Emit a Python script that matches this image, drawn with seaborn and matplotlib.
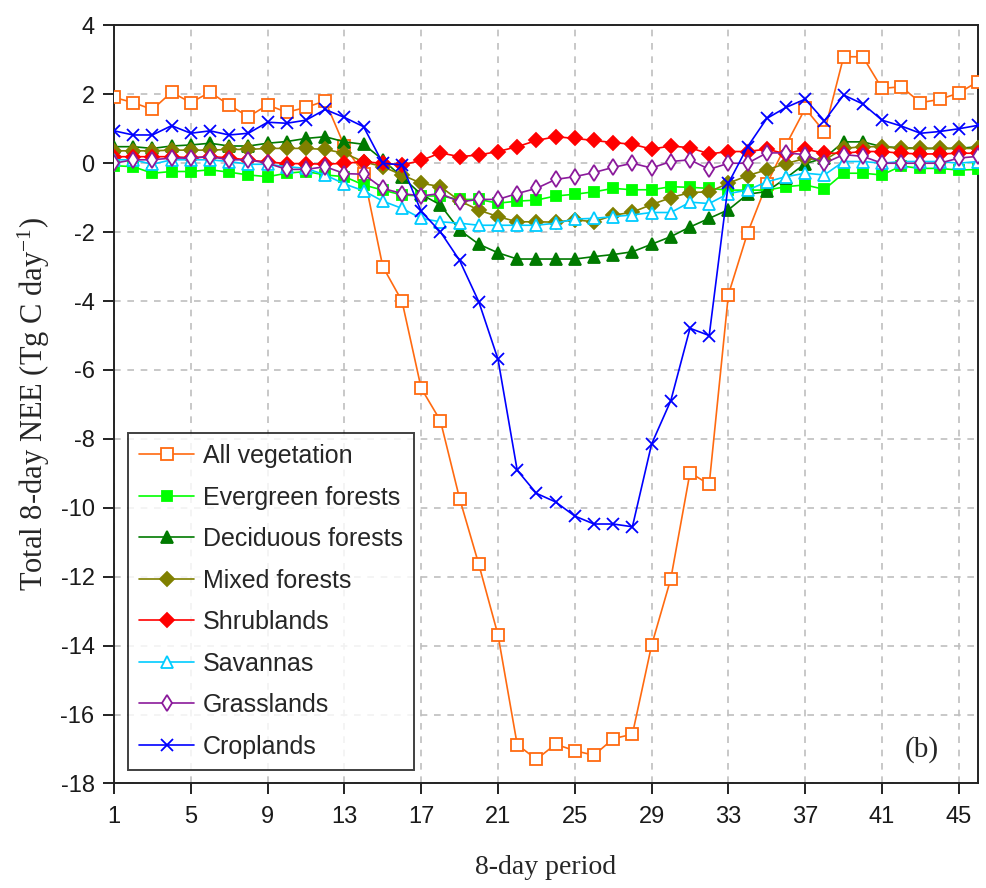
import matplotlib
matplotlib.use('Agg')
import matplotlib.pyplot as plt
import seaborn as sns
import numpy as np

sns.set_style('white')
plt.rcParams['font.family'] = ['Liberation Sans', 'DejaVu Sans']
plt.rcParams['mathtext.default'] = 'regular'
plt.rcParams['axes.unicode_minus'] = False

periods = list(range(1, 47))

all_vegetation = [1.91, 1.76, 1.56, 2.06, 1.76, 2.06, 1.69, 1.35, 1.69, 1.48, 1.62, 1.81,
                  0.5, -0.3, -3.0, -4.0, -6.53, -7.47, -9.73, -11.64, -13.69, -16.87, -17.3,
                  -16.86, -17.05, -17.18, -16.7, -16.57, -13.99, -12.06, -8.98, -9.32, -3.81,
                  -2.02, -0.6, 0.53, 1.59, 0.91, 3.09, 3.09, 2.17, 2.22, 1.76, 1.85, 2.04, 2.37]
evergreen = [-0.07, -0.1, -0.29, -0.24, -0.24, -0.19, -0.26, -0.34, -0.39, -0.29, -0.24, -0.34,
             -0.39, -0.63, -0.78, -0.92, -0.95, -0.95, -1.05, -1.05, -1.16, -1.1, -1.07, -0.95,
             -0.9, -0.83, -0.73, -0.77, -0.77, -0.68, -0.7, -0.73, -0.78, -0.78, -0.78, -0.68,
             -0.63, -0.76, -0.29, -0.29, -0.34, -0.08, -0.15, -0.15, -0.2, -0.18]
deciduous = [0.48, 0.48, 0.43, 0.5, 0.53, 0.58, 0.5, 0.5, 0.58, 0.63, 0.72, 0.77,
             0.62, 0.55, 0.1, -0.4, -0.9, -1.21, -1.94, -2.35, -2.6, -2.78, -2.78, -2.78,
             -2.78, -2.71, -2.65, -2.57, -2.35, -2.13, -1.85, -1.6, -1.35, -0.9, -0.82, -0.43,
             -0.01, 0.15, 0.62, 0.62, 0.48, 0.45, 0.43, 0.43, 0.43, 0.48]
mixed = [0.36, 0.36, 0.36, 0.38, 0.38, 0.38, 0.4, 0.4, 0.43, 0.43, 0.43, 0.4,
         0.29, 0.04, -0.1, -0.34, -0.58, -0.68, -1.09, -1.36, -1.55, -1.7, -1.7, -1.71,
         -1.64, -1.7, -1.51, -1.42, -1.2, -1.0, -0.85, -0.83, -0.58, -0.36, -0.19, -0.01,
         0.14, 0.09, 0.43, 0.48, 0.48, 0.43, 0.43, 0.43, 0.43, 0.43]
shrublands = [0.19, 0.19, 0.19, 0.19, 0.16, 0.19, 0.16, 0.09, 0.04, -0.01, -0.01, -0.03,
              0.0, 0.04, 0.0, -0.05, 0.08, 0.3, 0.19, 0.24, 0.34, 0.48, 0.66, 0.77,
              0.72, 0.66, 0.6, 0.55, 0.41, 0.5, 0.45, 0.27, 0.34, 0.34, 0.41, 0.27,
              0.41, 0.29, 0.29, 0.34, 0.34, 0.29, 0.27, 0.27, 0.29, 0.29]
savannas = [0.1, 0.1, -0.03, 0.1, 0.1, 0.1, 0.05, -0.03, -0.03, -0.1, -0.15, -0.34,
            -0.6, -0.8, -1.1, -1.31, -1.6, -1.7, -1.74, -1.8, -1.8, -1.8, -1.8, -1.74,
            -1.62, -1.6, -1.55, -1.5, -1.43, -1.43, -1.13, -1.17, -0.88, -0.78, -0.54, -0.39,
            -0.29, -0.34, 0.05, 0.05, 0.0, 0.05, 0.05, 0.05, 0.0, 0.05]
grasslands = [0.0, 0.1, 0.1, 0.15, 0.15, 0.19, 0.1, 0.1, 0.0, -0.18, -0.18, -0.1,
              -0.3, -0.32, -0.73, -0.88, -0.95, -0.88, -1.12, -1.05, -1.05, -0.88, -0.73, -0.47,
              -0.39, -0.27, -0.12, 0.0, -0.14, 0.05, 0.1, -0.18, 0.0, 0.0, 0.3, 0.3,
              0.25, 0.0, 0.25, 0.2, 0.0, 0.0, 0.0, 0.0, 0.15, 0.2]
croplands = [0.94, 0.82, 0.82, 1.09, 0.87, 0.94, 0.82, 0.87, 1.19, 1.16, 1.25, 1.56,
             1.33, 1.06, 0.0, -0.05, -1.4, -1.99, -2.82, -4.02, -5.69, -8.91, -9.58, -9.83,
             -10.24, -10.47, -10.47, -10.55, -8.15, -6.89, -4.79, -5.0, -0.58, 0.48, 1.3, 1.62,
             1.86, 1.23, 1.98, 1.72, 1.25, 1.08, 0.87, 0.92, 1.0, 1.1]

# label, values, color, marker, marker size, hollow?
series = [
    ('All vegetation', all_vegetation, '#FF6A10', 's', 9, True),
    ('Evergreen forests', evergreen, '#00FF00', 's', 7.5, False),
    ('Deciduous forests', deciduous, '#007A00', '^', 9, False),
    ('Mixed forests', mixed, '#808000', 'D', 7, False),
    ('Shrublands', shrublands, '#FF0000', 'D', 7, False),
    ('Savannas', savannas, '#00CCFF', '^', 8.5, True),
    ('Grasslands', grasslands, '#8B1A9B', 'd', 8.5, True),
    ('Croplands', croplands, '#0000FF', 'x', 8, False),
]

fig = plt.figure(figsize=(9.86, 8.88), dpi=100)
ax = fig.add_axes([0.1156, 0.1177, 0.8763, 0.8537])

for label, vals, color, marker, ms, hollow in series:
    sns.lineplot(x=periods, y=vals, ax=ax, color=color, linewidth=1.2,
                 marker=marker, markersize=ms,
                 markerfacecolor='white' if hollow else color,
                 markeredgecolor=color, markeredgewidth=1.3,
                 label=label, zorder=3)

ax.set_xlim(1, 46)
ax.set_ylim(-18, 4)
ax.set_xticks(np.arange(1, 46, 4))
ax.set_yticks(np.arange(-18, 5, 2))
ax.grid(True, color='#BFBFBF', linestyle=(0, (4, 4)), linewidth=1.2, zorder=0)
ax.set_axisbelow(True)

for sp in ax.spines.values():
    sp.set_color('#222222')
    sp.set_linewidth(1.4)

ax.tick_params(axis='both', direction='out', length=8, width=1.4, color='#222222',
               labelsize=17, labelcolor='#1a1a1a', left=True, bottom=True)
ax.tick_params(axis='x', pad=8)
ax.tick_params(axis='y', pad=6)

ax.set_xlabel('8-day period', family='Liberation Serif', fontsize=20, labelpad=20)
ax.set_ylabel('Total 8-day NEE (Tg C day$^{-1}$)', family='Liberation Serif',
              fontsize=22, labelpad=6)

ax.text(0.935, 0.045, '(b)', transform=ax.transAxes, family='Liberation Serif',
        fontsize=21, ha='center', va='center')

leg = ax.legend(loc='lower left', bbox_to_anchor=(0.016, 0.018), borderaxespad=0,
                frameon=True, fancybox=False, fontsize=18, handlelength=2.2,
                handletextpad=0.35, labelspacing=0.7, borderpad=0.45)
leg.get_frame().set_edgecolor('#111111')
leg.get_frame().set_linewidth(1.4)

fig.savefig('out.png', dpi=100)
